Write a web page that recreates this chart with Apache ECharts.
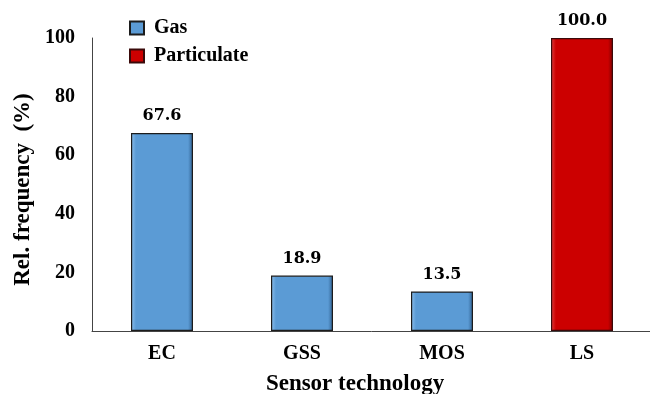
<!DOCTYPE html>
<html>
<head>
<meta charset="utf-8">
<style>
  html, body { margin: 0; padding: 0; background: #ffffff; }
  #chart { width: 650px; height: 394px; }
</style>
<script src="https://cdn.jsdelivr.net/npm/echarts@6/dist/echarts.min.js"></script>
</head>
<body>
<div id="chart"></div>
<script>
// Sensor technologies and their relative frequency (%)
const categories = ['EC', 'GSS', 'MOS', 'LS'];
const gasValues = [67.6, 18.9, 13.5, null];
const particulateValues = [null, null, null, 100.0];
const yTicks = [0, 20, 40, 60, 80, 100];

const serif = '"Liberation Serif", "Times New Roman", serif';

function bevel(light, base, dark) {
  return new echarts.graphic.LinearGradient(0, 0, 1, 0, [
    { offset: 0, color: light },
    { offset: 0.08, color: base },
    { offset: 0.92, color: base },
    { offset: 1, color: dark }
  ]);
}

const valueLabel = {
  show: true,
  position: 'top',
  distance: 9,
  fontFamily: '"DejaVu Serif", Georgia, serif',
  fontWeight: 'bold',
  fontSize: 16,
  color: '#000',
  formatter: p => (p.value == null ? '' : Number(p.value).toFixed(1))
};

const chart = echarts.init(document.getElementById('chart'), null, { renderer: 'canvas' });
chart.setOption({
  animation: false,
  backgroundColor: '#ffffff',
  grid: {
    left: 92, top: 38, bottom: 63, width: 560,
    containLabel: false,
    outerBoundsMode: 'none'
  },
  legend: {
    orient: 'vertical',
    left: 129,
    top: 18,
    padding: 0,
    itemWidth: 14,
    itemHeight: 13,
    itemGap: 8,
    icon: 'rect',
    textStyle: {
      fontFamily: serif, fontWeight: 'bold', fontSize: 20, color: '#000',
      padding: [0, 0, 0, 5]
    },
    data: ['Gas', 'Particulate']
  },
  xAxis: {
    type: 'category',
    data: categories,
    axisLine: { lineStyle: { color: '#444', width: 1 } },
    axisTick: { show: false },
    axisLabel: { fontFamily: serif, fontWeight: 'bold', fontSize: 20, color: '#000', margin: 13 },
    name: 'Sensor technology',
    nameLocation: 'middle',
    nameGap: 42,
    nameTextStyle: { fontFamily: serif, fontWeight: 'bold', fontSize: 23, color: '#000', padding: [0, 34, 0, 0] }
  },
  yAxis: {
    type: 'value',
    min: yTicks[0],
    max: yTicks[yTicks.length - 1],
    interval: 20,
    axisLine: { show: true, lineStyle: { color: '#444', width: 1 } },
    axisTick: { show: false },
    splitLine: { show: false },
    axisLabel: { fontFamily: serif, fontWeight: 'bold', fontSize: 20, color: '#000', margin: 17 },
    name: 'Rel. frequency  (%)',
    nameLocation: 'middle',
    nameGap: 55,
    nameRotate: 90,
    nameTextStyle: { fontFamily: serif, fontWeight: 'bold', fontSize: 23, color: '#000', padding: [0, 10, 0, 0] }
  },
  series: [
    {
      name: 'Gas',
      type: 'bar',
      stack: 'all',
      barWidth: 62,
      data: gasValues,
      itemStyle: {
        color: bevel('#8ec0ec', '#5b9bd5', '#2f5f8f'),
        borderColor: '#1c1c1c',
        borderWidth: 1.2
      },
      label: valueLabel
    },
    {
      name: 'Particulate',
      type: 'bar',
      stack: 'all',
      barWidth: 62,
      data: particulateValues,
      itemStyle: {
        color: bevel('#e04040', '#cc0000', '#7a0000'),
        borderColor: '#3a0a0a',
        borderWidth: 1.2
      },
      label: valueLabel
    }
  ]
});
</script>
</body>
</html>
